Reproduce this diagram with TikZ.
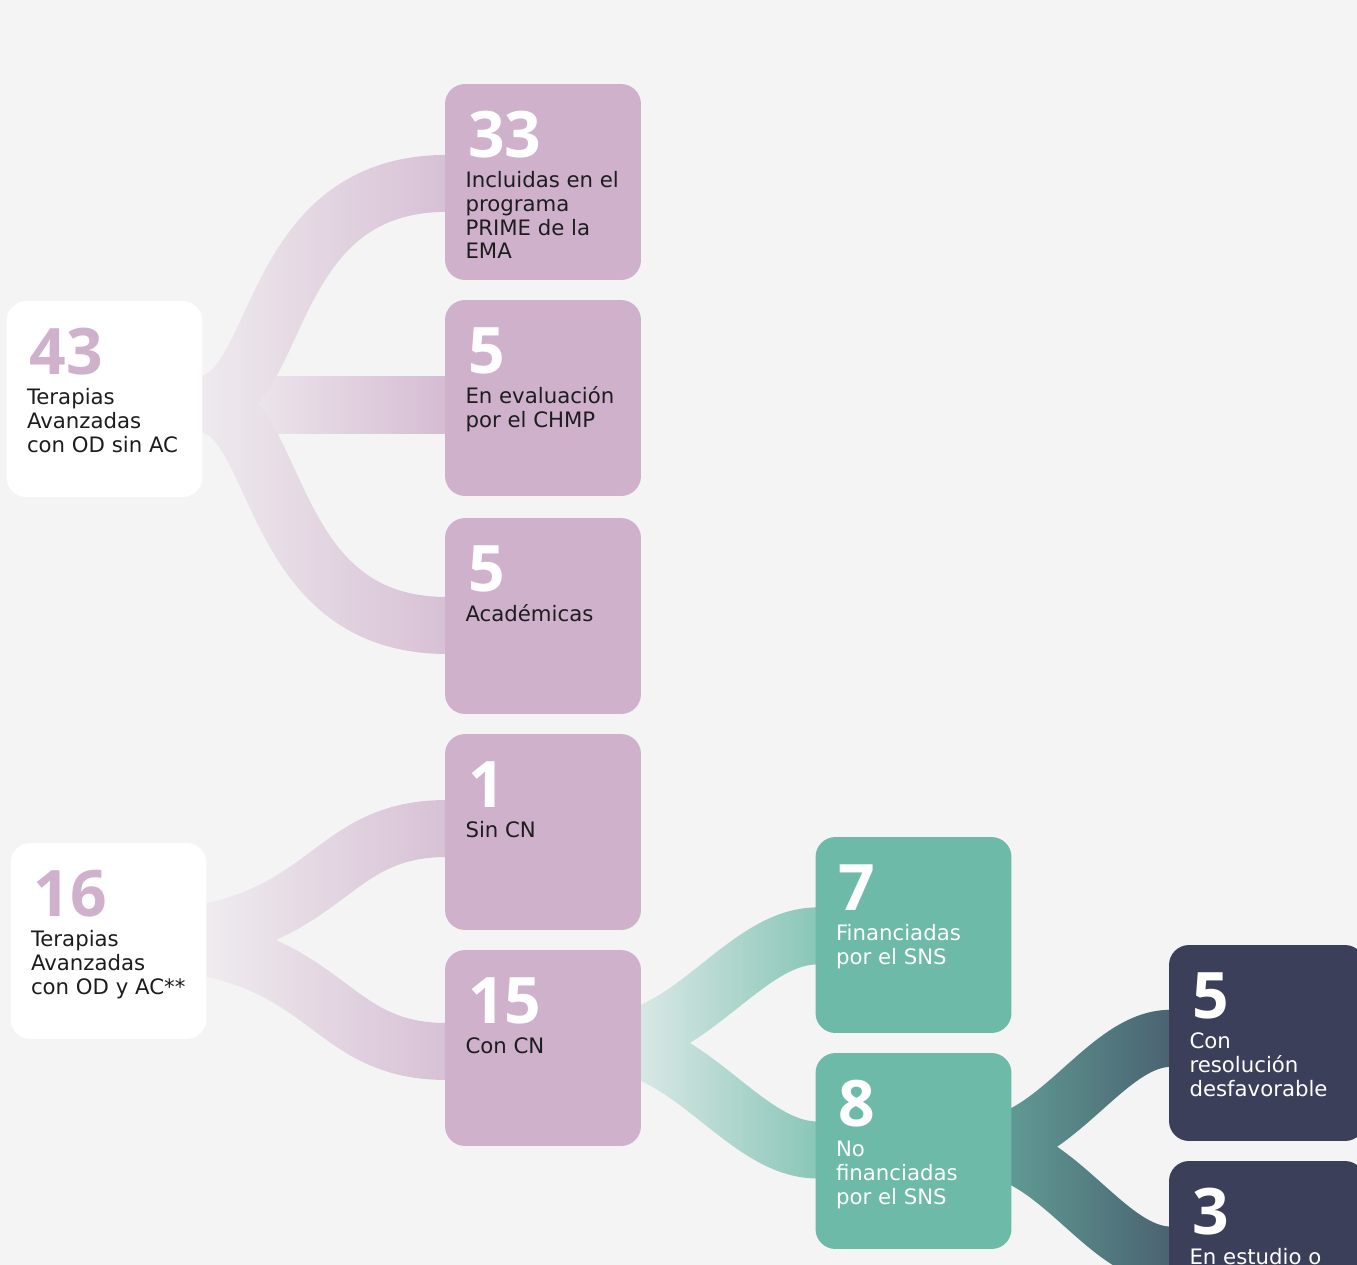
\documentclass[tikz,border=0pt]{standalone}
\usepackage{fontspec}
\setmainfont{DejaVu Sans}
\newfontfamily\numfont{Open Sans}
\usetikzlibrary{calc,fadings}

\definecolor{bgc}{HTML}{F4F4F4}
\definecolor{purp}{HTML}{CFB1CC}
\definecolor{tealc}{HTML}{6DBAA9}
\definecolor{darkc}{HTML}{3C3F59}
\definecolor{ink}{HTML}{1D1D1F}

\pgfdeclarelayer{bg}
\pgfdeclarelayer{flow}
\pgfsetlayers{bg,flow,main}

% fadings of the flows (transparent towards the left)
\pgfdeclarehorizontalshading{shadeA}{100bp}{color(0bp)=(black!94); color(25bp)=(black!94); color(75bp)=(black!16); color(100bp)=(black!16)}
\pgfdeclarehorizontalshading{shadeB}{100bp}{color(0bp)=(black); color(25bp)=(black); color(38.3bp)=(black!92); color(75bp)=(black!16); color(100bp)=(black!16)}
\pgfdeclarehorizontalshading{shadeC}{100bp}{color(0bp)=(black); color(25bp)=(black); color(34.5bp)=(black!85); color(75bp)=(black!12); color(100bp)=(black!12)}
\pgfdeclarehorizontalshading{shadeD}{100bp}{color(0bp)=(black); color(25bp)=(black); color(34.5bp)=(black!78); color(75bp)=(black!22); color(100bp)=(black!22)}
\tikzfading[name=fadeA, shading=shadeA]
\tikzfading[name=fadeB, shading=shadeB]
\tikzfading[name=fadeC, shading=shadeC]
\tikzfading[name=fadeD, shading=shadeD]

\newcommand\firstln{\rule{0pt}{10pt}}

\tikzset{
  box/.style={rounded corners=0.4cm, minimum width=3.92cm, minimum height=3.92cm, inner sep=0pt},
  whitebox/.style={box, fill=white},
  purpbox/.style={box, fill=purp},
  tealbox/.style={box, fill=tealc},
  darkbox/.style={box, fill=darkc},
  num/.style={anchor=base west, inner sep=0pt, font=\numfont\bfseries\fontsize{36.5}{40}\selectfont},
  txt/.style={anchor=north west, inner sep=0pt, align=left, font=\fontsize{12.1}{13.6}\selectfont},
  flow/.style={line width=1.14cm}
}

\begin{document}
\begin{tikzpicture}[x=0.02cm, y=-0.02cm]
% Set the canvas (1 unit = 1 pixel of the layout)
\useasboundingbox (0,0) rectangle (1357,1265);
\begin{pgfonlayer}{bg}
\fill[bgc] (0,0) rectangle (1357,1265);
\end{pgfonlayer}

% Draw the boxes and insert the numbers
\node[whitebox] (a) at (104.5,399) {};
\node[num, purp] (a-n) at ($(a.north west)+(23,74)$) {43};
\node[txt, ink] (a-t) at ($(a.north west)+(20.5,85.7)$) {\firstln Terapias\\Avanzadas\\con OD sin AC};
\node[whitebox] (b) at (108.5,941) {};
\node[num, purp] (b-n) at ($(b.north west)+(23,74)$) {16};
\node[txt, ink] (b-t) at ($(b.north west)+(20.5,85.7)$) {\firstln Terapias\\Avanzadas\\con OD y AC**};
\node[purpbox] (p1) at (543,182) {};
\node[num, white] (p1-n) at ($(p1.north west)+(23,74)$) {33};
\node[txt, ink] (p1-t) at ($(p1.north west)+(20.5,85.7)$) {\firstln Incluidas en el\\programa\\PRIME de la\\EMA};
\node[purpbox] (p2) at (543,398) {};
\node[num, white] (p2-n) at ($(p2.north west)+(23,74)$) {5};
\node[txt, ink] (p2-t) at ($(p2.north west)+(20.5,85.7)$) {\firstln En evaluación\\por el CHMP};
\node[purpbox] (p3) at (543,616) {};
\node[num, white] (p3-n) at ($(p3.north west)+(23,74)$) {5};
\node[txt, ink] (p3-t) at ($(p3.north west)+(20.5,85.7)$) {\firstln Académicas};
\node[purpbox] (p4) at (543,832) {};
\node[num, white] (p4-n) at ($(p4.north west)+(23,74)$) {1};
\node[txt, ink] (p4-t) at ($(p4.north west)+(20.5,85.7)$) {\firstln Sin CN};
\node[purpbox] (p5) at (543,1048) {};
\node[num, white] (p5-n) at ($(p5.north west)+(23,74)$) {15};
\node[txt, ink] (p5-t) at ($(p5.north west)+(20.5,85.7)$) {\firstln Con CN};
\node[tealbox] (t1) at (913.5,935) {};
\node[num, white] (t1-n) at ($(t1.north west)+(23,74)$) {7};
\node[txt, white] (t1-t) at ($(t1.north west)+(20.5,85.7)$) {\firstln Financiadas\\por el SNS};
\node[tealbox] (t2) at (913.5,1151) {};
\node[num, white] (t2-n) at ($(t2.north west)+(23,74)$) {8};
\node[txt, white] (t2-t) at ($(t2.north west)+(20.5,85.7)$) {\firstln No\\financiadas\\por el SNS};
\node[darkbox] (d1) at (1267,1043) {};
\node[num, white] (d1-n) at ($(d1.north west)+(23,74)$) {5};
\node[txt, white] (d1-t) at ($(d1.north west)+(20.5,85.7)$) {\firstln Con\\resolución\\desfavorable};
\node[darkbox] (d2) at (1267,1259) {};
\node[num, white] (d2-n) at ($(d2.north west)+(23,74)$) {3};
\node[txt, white] (d2-t) at ($(d2.north west)+(20.5,85.7)$) {\firstln En estudio o};

% Draw the flows behind the boxes
\begin{pgfonlayer}{flow}
\shade[left color=purp!20!bgc, right color=purp!84!bgc] ($(p2.west)+(-195,-22)$) rectangle ($(p2.west)+(2,35)$);
\draw[flow, bgc] ($(a.east)+(-3,5)$) .. controls +(83.5,0) and +(-186,0) .. ($(p1.west)+(2,1.5)$)
  ($(a.east)+(-3,5)$) .. controls +(83.5,0) and +(-186,0) .. ($(p3.west)+(2,9.5)$);
\draw[flow, purp, path fading=fadeA] ($(a.east)+(-3,5)$) .. controls +(83.5,0) and +(-186,0) .. ($(p1.west)+(2,1.5)$)
  ($(a.east)+(-3,5)$) .. controls +(83.5,0) and +(-186,0) .. ($(p3.west)+(2,9.5)$);
\draw[flow, purp, path fading=fadeB] ($(b.east)+(-87.5,-1)$) .. controls +(214.5,0) and +(-130.5,0) .. ($(p4.west)+(2,-3.5)$)
  ($(b.east)+(-87.5,-1)$) .. controls +(214.5,0) and +(-130.5,0) .. ($(p5.west)+(2,3.5)$);
\draw[flow, tealc, path fading=fadeC] ($(p5.east)+(-41,-5)$) .. controls +(90,0) and +(-72.8,0) .. ($(t1.west)+(2,1)$)
  ($(p5.east)+(-41,-5)$) .. controls +(90,0) and +(-72.8,0) .. ($(t2.west)+(2,-1)$);
\draw[flow, tealc] ($(t2.east)+(-36.5,-4.3)$) .. controls +(81,0) and +(-65.7,0) .. ($(d1.west)+(2,-4.7)$)
  ($(t2.east)+(-36.5,-4.3)$) .. controls +(81,0) and +(-65.7,0) .. ($(d2.west)+(2,-3.9)$);
\draw[flow, darkc, path fading=fadeD] ($(t2.east)+(-36.5,-4.3)$) .. controls +(81,0) and +(-65.7,0) .. ($(d1.west)+(2,-4.7)$)
  ($(t2.east)+(-36.5,-4.3)$) .. controls +(81,0) and +(-65.7,0) .. ($(d2.west)+(2,-3.9)$);
\end{pgfonlayer}
\end{tikzpicture}
\end{document}
